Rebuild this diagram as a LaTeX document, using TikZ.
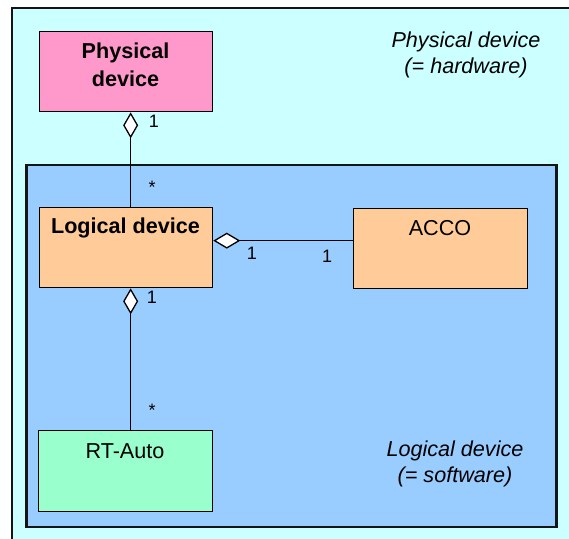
\documentclass[tikz,border=0pt]{standalone}
\usepackage{fontspec}
\setmainfont{Liberation Sans}
\usetikzlibrary{arrows.meta}
\definecolor{hwfill}{HTML}{CCFFFF}
\definecolor{swfill}{HTML}{99CCFF}
\definecolor{pinkfill}{HTML}{FF99CC}
\definecolor{orangefill}{HTML}{FFCC99}
\definecolor{greenfill}{HTML}{99FFCC}
\definecolor{frame}{HTML}{151515}
\begin{document}
\begin{tikzpicture}[x=1pt,y=-1pt,
  box/.style={draw=black, line width=1.3pt, anchor=north west, inner sep=0pt},
  region/.style={draw=frame, line width=2.6pt, anchor=north west, inner sep=0pt},
  title/.style={font=\fontsize{21.6}{27.5}\selectfont, anchor=base, align=center, inner sep=0pt},
  note/.style={font=\fontsize{21.6}{26}\selectfont\itshape, anchor=base, align=center, inner sep=0pt},
  mult/.style={font=\fontsize{18}{20}\selectfont, anchor=base, inner sep=0pt},
  conn/.style={draw=black, line width=1.3pt},
  vdia/.style={{Diamond[length=26pt 0,width=15pt 0,fill=white]}-},
  hdia/.style={{Diamond[length=27pt 0,width=16pt 0,fill=white]}-}
]
\useasboundingbox (0,0) rectangle (569,538);
\clip (0,0) rectangle (569,538);
\fill[white] (0,0) rectangle (569,538);
% regions
\node[region, fill=hwfill, minimum width=590, minimum height=560] (hw) at (10.5,6.5) {};
\node[region, fill=swfill, minimum width=530, minimum height=362] (sw) at (25,163.5) {};
% classes
\node[box, fill=pinkfill, minimum width=173, minimum height=80] (phys) at (39,31) {};
\node[box, fill=orangefill, minimum width=173, minimum height=80] (log) at (39,207) {};
\node[box, fill=orangefill, minimum width=174, minimum height=80] (acco) at (353,208) {};
\node[box, fill=greenfill, minimum width=174, minimum height=81] (rt) at (38,430) {};
% class names
\node[title, font=\fontsize{21.6}{27.5}\selectfont\bfseries] (physT) at (125.5,86) {Physical\\device};
\node[title, font=\fontsize{21.6}{27.5}\selectfont\bfseries] (logT) at (125.5,233) {Logical device};
\node[title] (accoT) at (440,235) {ACCO};
\node[title] (rtT) at (125,458) {RT-Auto};
% region notes
\node[note] (hwT) at (466,73.5) {Physical device\\(= hardware)};
\node[note] (swT) at (455,482) {Logical device\\(= software)};
% connectors
\draw[conn, vdia] ([xshift=4.5pt]phys.south) -- ([xshift=4.5pt]log.north);
\draw[conn, hdia] ([yshift=7pt]log.east) -- ([yshift=7pt]log.east -| acco.west);
\draw[conn, vdia] ([xshift=4.5pt]log.south) -- ([xshift=4.5pt]log.south |- rt.north);
% multiplicities
\node[mult] (m1) at (154,127.5) {1};
\node[mult] (m2) at (152,193) {*};
\node[mult] (m3) at (252,259.5) {1};
\node[mult] (m4) at (327,262.5) {1};
\node[mult] (m5) at (152,303.5) {1};
\node[mult] (m6) at (152,416) {*};
\end{tikzpicture}
\end{document}
